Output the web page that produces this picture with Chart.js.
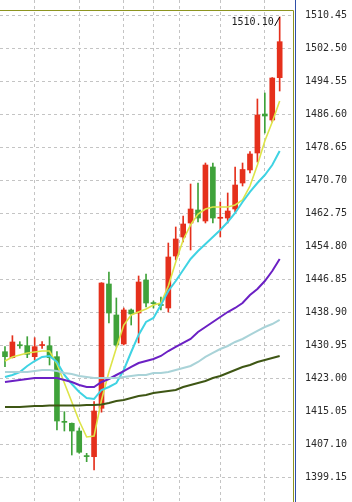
<!DOCTYPE html>
<html>
<head>
<meta charset="utf-8">
<script src="https://cdn.jsdelivr.net/npm/chart.js@4/dist/chart.umd.min.js"></script>
<style>
  html, body { margin: 0; padding: 0; background: #fff; }
  #wrap { width: 352px; height: 502px; position: relative; }
</style>
</head>
<body>
<div id="wrap"><canvas id="kline"></canvas></div>
<script>
// candle data (oldest -> newest), red = up, green = down
const opens  = [1429.47, 1428.03, 1431.15, 1430.92, 1428.27, 1430.95, 1430.92, 1428.27, 1412.70, 1412.23,
                1410.37, 1404.45, 1404.18, 1415.84, 1445.78, 1438.31, 1431.33, 1439.52, 1438.79, 1446.74,
                1441.30, 1440.85, 1440.00, 1452.52, 1457.10, 1460.47, 1463.60, 1460.95, 1473.96, 1461.60,
                1461.67, 1463.84, 1470.10, 1473.24, 1477.33, 1486.72, 1485.28, 1495.47];
const highs  = [1430.68, 1433.33, 1431.88, 1433.09, 1432.85, 1431.88, 1433.09, 1429.50, 1415.02, 1412.30,
                1411.10, 1405.00, 1417.43, 1446.10, 1448.67, 1442.41, 1440.00, 1439.76, 1447.71, 1448.19,
                1441.68, 1442.65, 1455.65, 1459.51, 1462.16, 1469.86, 1470.10, 1474.92, 1474.92, 1465.53,
                1467.70, 1473.96, 1474.92, 1477.69, 1490.34, 1491.78, 1495.50, 1510.10];
const lows   = [1425.86, 1427.96, 1430.29, 1428.03, 1427.47, 1430.29, 1426.27, 1410.61, 1410.37, 1404.59,
                1405.00, 1402.98, 1400.98, 1414.90, 1436.39, 1430.61, 1431.09, 1435.90, 1431.57, 1440.24,
                1440.00, 1439.52, 1439.03, 1451.56, 1455.89, 1453.97, 1460.71, 1460.47, 1460.47, 1457.10,
                1460.47, 1463.12, 1469.38, 1472.51, 1475.16, 1482.15, 1484.80, 1492.26];
const closes = [1428.27, 1431.81, 1430.90, 1428.85, 1430.68, 1431.20, 1428.03, 1412.78, 1412.45, 1410.37,
                1405.25, 1404.20, 1415.19, 1446.02, 1438.79, 1431.09, 1439.52, 1438.55, 1446.26, 1441.20,
                1441.05, 1440.60, 1452.28, 1456.62, 1460.23, 1463.84, 1461.67, 1474.44, 1461.67, 1461.85,
                1463.36, 1469.62, 1473.36, 1477.09, 1486.48, 1486.24, 1495.39, 1504.14];

// moving average lines
const maYellow = [1427.23, 1428.20, 1428.68, 1429.16, 1429.40, 1429.64, 1429.64, 1426.51, 1421.93, 1417.36,
                  1412.78, 1408.93, 1409.17, 1417.84, 1424.58, 1430.36, 1435.90, 1438.31, 1439.03, 1439.76,
                  1440.72, 1441.20, 1445.30, 1451.08, 1456.38, 1459.99, 1462.64, 1463.84, 1464.32, 1464.32,
                  1464.32, 1464.81, 1466.01, 1469.38, 1474.44, 1480.22, 1484.80, 1489.85];
const maCyan   = [1423.38, 1423.86, 1424.58, 1426.03, 1427.23, 1428.20, 1428.44, 1426.99, 1423.86, 1421.69,
                  1419.77, 1418.32, 1418.08, 1420.25, 1420.97, 1421.93, 1425.07, 1429.40, 1433.50, 1436.63,
                  1437.59, 1440.72, 1444.09, 1446.50, 1449.15, 1451.80, 1453.73, 1455.41, 1457.10, 1458.78,
                  1460.71, 1462.88, 1465.53, 1467.94, 1470.10, 1472.03, 1474.44, 1477.81];
const maPurple = [1422.18, 1422.42, 1422.66, 1422.90, 1423.14, 1423.14, 1423.14, 1423.14, 1422.66, 1422.18,
                  1421.45, 1420.97, 1420.97, 1422.18, 1422.90, 1423.86, 1424.82, 1425.79, 1426.75, 1427.23,
                  1427.72, 1428.44, 1429.64, 1430.61, 1431.57, 1432.53, 1434.22, 1435.42, 1436.63, 1437.83,
                  1439.03, 1440.00, 1441.20, 1443.13, 1444.57, 1446.50, 1448.91, 1451.80];
const maLight  = [1424.58, 1424.58, 1424.58, 1424.58, 1424.82, 1425.07, 1425.07, 1424.82, 1424.34, 1424.10,
                  1423.62, 1423.38, 1423.14, 1423.14, 1423.14, 1423.14, 1423.38, 1423.62, 1423.86, 1423.86,
                  1424.34, 1424.34, 1424.58, 1425.07, 1425.55, 1426.03, 1426.99, 1428.20, 1429.16, 1430.12,
                  1430.85, 1431.81, 1432.53, 1433.50, 1434.46, 1435.42, 1436.14, 1437.11];
const maOlive  = [1416.15, 1416.15, 1416.15, 1416.27, 1416.39, 1416.39, 1416.52, 1416.52, 1416.52, 1416.52,
                  1416.52, 1416.64, 1416.64, 1416.76, 1417.12, 1417.60, 1417.84, 1418.32, 1418.80, 1419.04,
                  1419.53, 1419.77, 1420.01, 1420.25, 1420.97, 1421.45, 1421.93, 1422.42, 1423.14, 1423.62,
                  1424.34, 1425.07, 1425.79, 1426.27, 1426.99, 1427.47, 1427.96, 1428.44];

// price axis labels and the candles where the vertical separators sit
const yTicks = [1399.15, 1407.10, 1415.05, 1423.00, 1430.95, 1438.90, 1446.85, 1454.80,
                1462.75, 1470.70, 1478.65, 1486.60, 1494.55, 1502.50, 1510.45];
const vGridIdx = [1, 7, 13, 19, 21, 26, 32];

const yMin = 1393.27, yMax = 1514.18;
const xMin = -0.671, xMax = 38.66;

const UP = '#e5301c';
const DOWN = '#3fa23a';
const candleColor = (ctx) => closes[ctx.dataIndex] >= opens[ctx.dataIndex] ? UP : DOWN;

const wickData = lows.map((l, i) => ({ x: i, y: [l, highs[i]] }));
const bodyData = opens.map((o, i) => ({ x: i, y: [o, closes[i]] }));
const toXY = (arr) => arr.map((v, i) => ({ x: i, y: v }));

function maLine(values, color, width) {
    return {
        type: 'line',
        data: toXY(values),
        borderColor: color,
        borderWidth: width,
        pointRadius: 0,
        tension: 0,
        order: 1
    };
}

// frame lines round the price pane
const framePlugin = {
    id: 'frame',
    afterDraw(chart) {
        const { ctx, chartArea } = chart;
        ctx.save();
        ctx.lineWidth = 1;
        ctx.strokeStyle = '#8c9420';
        ctx.beginPath();
        ctx.moveTo(chartArea.left, chartArea.top + 10.5);
        ctx.lineTo(chartArea.right + 1.5, chartArea.top + 10.5);
        ctx.moveTo(chartArea.right + 1.5, chartArea.top + 10.5);
        ctx.lineTo(chartArea.right + 1.5, chartArea.bottom);
        ctx.stroke();
        ctx.strokeStyle = '#2f4fa8';
        ctx.beginPath();
        ctx.moveTo(chartArea.right + 3.5, 0);
        ctx.lineTo(chartArea.right + 3.5, chartArea.bottom);
        ctx.stroke();
        ctx.restore();
    }
};

// marker on the highest high
const highMarkPlugin = {
    id: 'highMark',
    afterDatasetsDraw(chart) {
        const { ctx, scales } = chart;
        let idx = 0;
        highs.forEach((h, i) => { if (h > highs[idx]) idx = i; });
        const px = scales.x.getPixelForValue(idx);
        const py = scales.y.getPixelForValue(highs[idx]);
        ctx.save();
        ctx.strokeStyle = '#000';
        ctx.lineWidth = 1;
        ctx.beginPath();
        ctx.moveTo(px - 5, py + 9);
        ctx.lineTo(px, py);
        ctx.stroke();
        ctx.fillStyle = '#202020';
        ctx.font = '10px "DejaVu Sans Mono"';
        ctx.textAlign = 'right';
        ctx.textBaseline = 'middle';
        ctx.fillText(highs[idx].toFixed(2), px - 6, py + 5);
        ctx.restore();
    }
};

new Chart(document.getElementById('kline').getContext('2d'), {
    type: 'bar',
    data: {
        datasets: [
            maLine(maOlive, '#3e5614', 2),
            maLine(maLight, '#a9d3d8', 2),
            maLine(maPurple, '#6b20c4', 2),
            maLine(maCyan, '#3fd3e3', 2),
            maLine(maYellow, '#dde448', 1.6),
            {
                data: wickData,
                backgroundColor: candleColor,
                barThickness: 1,
                grouped: false,
                borderWidth: 0,
                borderSkipped: false,
                order: 3
            },
            {
                data: bodyData,
                backgroundColor: candleColor,
                barThickness: 5,
                grouped: false,
                borderWidth: 0,
                borderSkipped: false,
                order: 2
            }
        ]
    },
    options: {
        responsive: true,
        maintainAspectRatio: false,
        animation: false,
        layout: { padding: 0 },
        plugins: {
            legend: { display: false },
            tooltip: { enabled: false }
        },
        scales: {
            x: {
                type: 'linear',
                offset: false,
                min: xMin,
                max: xMax,
                grid: { color: '#c4c4c4', lineWidth: 1, drawTicks: false },
                border: { display: false, dash: [3, 3] },
                ticks: { display: false, padding: 0 },
                afterBuildTicks: (scale) => { scale.ticks = vGridIdx.map(v => ({ value: v })); },
                afterFit: (scale) => { scale.height = 0; scale.paddingLeft = 0; scale.paddingRight = 0; }
            },
            y: {
                position: 'right',
                min: yMin,
                max: yMax,
                grid: { color: '#c4c4c4', lineWidth: 1, drawTicks: true, tickLength: 13, tickColor: 'rgba(0,0,0,0)' },
                border: { display: false, dash: [3, 3] },
                ticks: {
                    color: '#2a2a2a',
                    padding: 0,
                    font: { family: '"DejaVu Sans Mono"', size: 10 },
                    callback: (value) => value.toFixed(2)
                },
                afterBuildTicks: (scale) => { scale.ticks = yTicks.map(v => ({ value: v })); },
                afterFit: (scale) => { scale.width = 60; scale.paddingTop = 0; scale.paddingBottom = 0; }
            }
        }
    },
    plugins: [framePlugin, highMarkPlugin]
});
</script>
</body>
</html>
